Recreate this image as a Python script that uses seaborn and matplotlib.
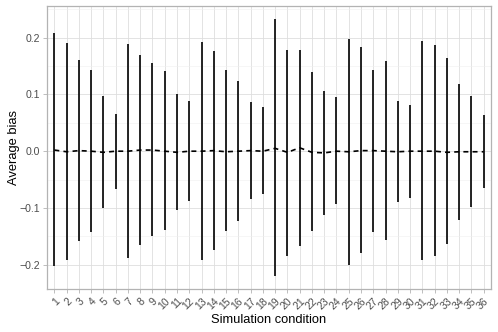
import numpy as np
import pandas as pd
import matplotlib
matplotlib.use('Agg')
import matplotlib.pyplot as plt
import seaborn as sns
from matplotlib.ticker import MultipleLocator

# Dados
conditions = list(range(1, 37))
mean_bias = [0.002, -0.001, 0.001, 0.000, -0.002, 0.000, 0.000, 0.002, 0.002, 0.000,
             -0.002, 0.000, 0.000, 0.001, -0.001, 0.000, 0.001, 0.000, 0.005, -0.002,
             0.006, -0.002, -0.003, 0.000, -0.001, 0.001, 0.001, 0.000, -0.001, 0.000,
             0.000, 0.000, -0.002, -0.001, -0.001, -0.001]
upper = [0.208, 0.190, 0.161, 0.143, 0.098, 0.066, 0.189, 0.170, 0.155, 0.141,
         0.100, 0.089, 0.193, 0.177, 0.143, 0.123, 0.086, 0.078, 0.233, 0.179,
         0.179, 0.139, 0.106, 0.095, 0.197, 0.184, 0.143, 0.159, 0.089, 0.082,
         0.194, 0.187, 0.164, 0.119, 0.098, 0.064]
lower = [-0.203, -0.192, -0.159, -0.142, -0.100, -0.066, -0.188, -0.166, -0.150, -0.139,
         -0.103, -0.088, -0.192, -0.174, -0.140, -0.123, -0.084, -0.076, -0.220, -0.184,
         -0.167, -0.141, -0.112, -0.093, -0.201, -0.180, -0.142, -0.156, -0.090, -0.083,
         -0.192, -0.185, -0.163, -0.122, -0.098, -0.064]

df = pd.DataFrame({'condition': conditions, 'bias': mean_bias,
                   'lower': lower, 'upper': upper})

sns.set_theme(style='white')
plt.rcParams['font.family'] = ['Liberation Sans', 'DejaVu Sans']

fig = plt.figure(figsize=(4.98, 3.32), dpi=100)
ax = fig.add_axes([47 / 498, 43 / 332, 444 / 498, 283 / 332])

# grade estilo theme_light
ax.set_axisbelow(True)
ax.yaxis.set_major_locator(MultipleLocator(0.1))
ax.yaxis.set_minor_locator(MultipleLocator(0.05))
ax.grid(True, which='major', axis='both', color='#DEDEDE', linewidth=0.6)
ax.grid(True, which='minor', axis='y', color='#EFEFEF', linewidth=0.4)

# barras de erro
ax.vlines(df['condition'], df['lower'], df['upper'], color='black', linewidth=1.2, zorder=3)

# linha da média
sns.lineplot(data=df, x='condition', y='bias', color='black', linewidth=1.2,
             dashes=False, ax=ax, zorder=4)
ax.lines[-1].set_dashes((3, 2.5))

span = max(upper) - min(lower)
ax.set_ylim(min(lower) - 0.05 * span, max(upper) + 0.05 * span)
ax.set_xlim(0.4, 36.6)
ax.set_xticks(conditions)
ax.set_xticklabels([str(c) for c in conditions], rotation=45, ha='right',
                   rotation_mode='anchor')
ax.set_yticks([-0.2, -0.1, 0.0, 0.1, 0.2])
ax.set_yticklabels(['\u22120.2', '\u22120.1', '0.0', '0.1', '0.2'])

ax.tick_params(axis='both', which='major', length=3, width=0.6, color='#B3B3B3',
               labelsize=7.6, labelcolor='#4D4D4D', pad=2, left=True, bottom=True)
ax.tick_params(axis='y', which='minor', length=0)

for s in ax.spines.values():
    s.set_color('#B3B3B3')
    s.set_linewidth(0.9)

ax.set_xlabel('Simulation condition', fontsize=9.3, color='black', labelpad=2)
ax.set_ylabel('Average bias', fontsize=9.3, color='black', labelpad=-0.5)

plt.savefig('out.png', dpi=100)
